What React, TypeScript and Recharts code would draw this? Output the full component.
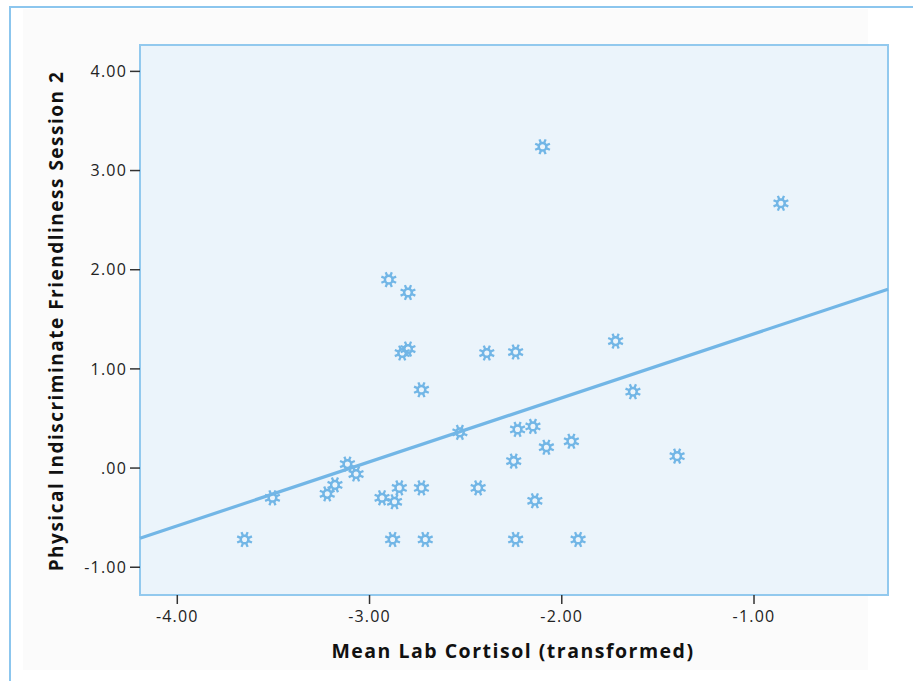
import React from "react";
import {
  ComposedChart,
  Scatter,
  XAxis,
  YAxis,
  ReferenceArea,
  ReferenceLine,
  Label,
} from "recharts";

// Mean Lab Cortisol (transformed)
const cortisol = [
  -3.65, -3.505, -3.22, -3.18, -3.115, -3.07, -2.935, -2.87, -2.845, -2.88,
  -2.9, -2.8, -2.83, -2.8, -2.73, -2.73, -2.71, -2.53, -2.435, -2.39,
  -2.24, -2.25, -2.23, -2.24, -2.15, -2.14, -2.08, -2.1, -1.95, -1.915,
  -1.72, -1.63, -1.4, -0.86,
];
// Physical Indiscriminate Friendliness Session 2
const friendliness = [
  -0.72, -0.3, -0.26, -0.17, 0.04, -0.06, -0.3, -0.34, -0.2, -0.72,
  1.9, 1.77, 1.16, 1.2, 0.79, -0.2, -0.72, 0.36, -0.2, 1.16,
  1.17, 0.07, 0.39, -0.72, 0.42, -0.33, 0.21, 3.24, 0.27, -0.72,
  1.28, 0.77, 0.12, 2.67,
];
// fit line end points
const fitX = [-4.194, -0.303];
const fitY = [-0.708, 1.804];

const xTicks = [-4, -3, -2, -1];
const yTicks = [-1, 0, 1, 2, 3, 4];
const xDomain = [-4.194, -0.303];
const yDomain = [-1.28, 4.266];

const points = cortisol.map((x, i) => ({ x, y: friendliness[i] }));

const BLUE = "#72b6e6";
const FONT = "'Open Sans', sans-serif";

const fmt = (v: number) => {
  if (v === 0) return ".00";
  return v.toFixed(2);
};

const StarMarker = (props: any) => {
  const { cx, cy } = props;
  if (cx == null || cy == null) return null;
  const spokes = [];
  for (let k = 0; k < 8; k++) {
    const a = (k * Math.PI) / 4 + Math.PI / 8;
    spokes.push(
      <line
        key={k}
        x1={cx + Math.cos(a) * 3}
        y1={cy + Math.sin(a) * 3}
        x2={cx + Math.cos(a) * 8}
        y2={cy + Math.sin(a) * 8}
        stroke={BLUE}
        strokeWidth={2.3}
      />
    );
  }
  return (
    <g>
      <circle cx={cx} cy={cy} r={3.8} fill="none" stroke={BLUE} strokeWidth={2.5} />
      {spokes}
    </g>
  );
};

const tickStyle = {
  fill: "#222",
  fontSize: 16,
  fontFamily: FONT,
  letterSpacing: 1.2,
};

export default function App() {
  return (
    <div
      style={{
        position: "absolute",
        left: 0,
        top: 0,
        width: 913,
        height: 681,
        overflow: "hidden",
        background: "#ffffff",
      }}
    >
      <div
        style={{
          position: "absolute",
          left: 9,
          top: 6,
          width: 940,
          height: 700,
          border: "2px solid #8cc6ee",
          boxSizing: "border-box",
        }}
      />
      <div
        style={{
          position: "absolute",
          left: 23,
          top: 9,
          width: 845,
          height: 661,
          background: "#fbfbfb",
        }}
      />
      <div style={{ position: "absolute", left: 0, top: 0 }}>
        <ComposedChart
          width={913}
          height={681}
          data={points}
          margin={{ top: 45, right: 25, bottom: 0, left: 0 }}
        >
          <XAxis
            type="number"
            dataKey="x"
            domain={xDomain}
            ticks={xTicks}
            allowDataOverflow
            axisLine={false}
            tickLine={{ stroke: "#333", strokeWidth: 1.5 }}
            tickSize={9}
            tickMargin={7}
            height={86}
            tickFormatter={fmt}
            tick={tickStyle}
          >
            <Label
              content={() => (
                <text
                  x={513}
                  y={658}
                  textAnchor="middle"
                  fontFamily={FONT}
                  fontWeight="bold"
                  fontSize={19.5}
                  letterSpacing={1.5}
                  fill="#111"
                >
                  Mean Lab Cortisol (transformed)
                </text>
              )}
            />
          </XAxis>
          <YAxis
            type="number"
            dataKey="y"
            domain={yDomain}
            ticks={yTicks}
            allowDataOverflow
            axisLine={false}
            tickLine={{ stroke: "#333", strokeWidth: 1.5 }}
            tickSize={10}
            tickMargin={3}
            width={140}
            tickFormatter={fmt}
            tick={tickStyle}
          >
            <Label
              content={() => (
                <text
                  x={63}
                  y={321}
                  transform="rotate(-90 63 321)"
                  textAnchor="middle"
                  fontFamily={FONT}
                  fontWeight="bold"
                  fontSize={19}
                  letterSpacing={1.5}
                  fill="#111"
                >
                  Physical Indiscriminate Friendliness Session 2
                </text>
              )}
            />
          </YAxis>
          <ReferenceArea
            x1={xDomain[0]}
            x2={xDomain[1]}
            y1={yDomain[0]}
            y2={yDomain[1]}
            fill="#ebf4fb"
            fillOpacity={1}
            stroke="#92c9ee"
            strokeWidth={2}
            ifOverflow="visible"
          />
          <ReferenceLine
            segment={[
              { x: fitX[0], y: fitY[0] },
              { x: fitX[1], y: fitY[1] },
            ]}
            stroke={BLUE}
            strokeWidth={3.2}
            ifOverflow="visible"
          />
          <Scatter
            dataKey="y"
            fill={BLUE}
            shape={StarMarker}
            isAnimationActive={false}
          />
        </ComposedChart>
      </div>
    </div>
  );
}
